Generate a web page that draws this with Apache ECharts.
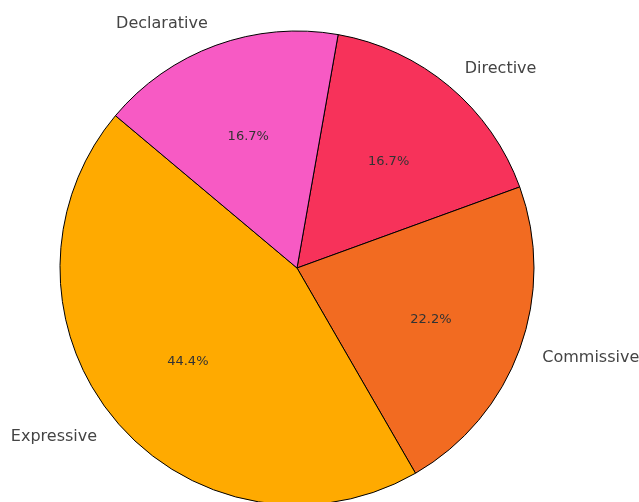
<!DOCTYPE html>
<html>
<head>
<meta charset="utf-8">
<script src="https://cdn.jsdelivr.net/npm/echarts@6/dist/echarts.min.js"></script>
<style>html,body{margin:0;padding:0;background:#fff}#c{width:639px;height:502px}</style>
</head>
<body>
<div id="c"></div>
<script>
const categories = ['Directive', 'Commissive', 'Expressive', 'Declarative'];
const values = [3, 4, 8, 3];
const colors = ['#F7325A', '#F26B21', '#FFAA00', '#F75AC4'];

const total = values.reduce((a, b) => a + b, 0);
const R = 237;
const center = [297, 268];
const data = categories.map((c, i) => ({ name: c, value: values[i], itemStyle: { color: colors[i] } }));

const chart = echarts.init(document.getElementById('c'));
chart.setOption({
  animation: false,
  series: [
    {
      type: 'pie',
      center: center,
      radius: [0, R],
      startAngle: 80,
      clockwise: true,
      avoidLabelOverlap: false,
      silent: true,
      itemStyle: { borderColor: '#000', borderWidth: 1 },
      label: {
        show: true,
        position: 'outside',
        fontFamily: 'DejaVu Sans',
        fontSize: 16,
        color: '#444',
        distanceToLabelLine: 0,
        offset: [0, 1],
        formatter: p => p.name
      },
      labelLine: { show: false, length: 24, length2: 0 },
      emphasis: { disabled: true },
      data: data
    },
    {
      type: 'pie',
      center: center,
      radius: [0, 279],
      startAngle: 80,
      clockwise: true,
      avoidLabelOverlap: false,
      silent: true,
      itemStyle: { color: 'transparent', borderWidth: 0 },
      label: {
        show: true,
        position: 'inside',
        fontFamily: 'DejaVu Sans',
        fontSize: 13,
        color: '#333',
        offset: [0, 2.5],
        formatter: p => (p.value / total * 100).toFixed(1) + '%'
      },
      labelLine: { show: false },
      emphasis: { disabled: true },
      data: categories.map((c, i) => ({ name: c, value: values[i] }))
    }
  ]
});
</script>
</body>
</html>
